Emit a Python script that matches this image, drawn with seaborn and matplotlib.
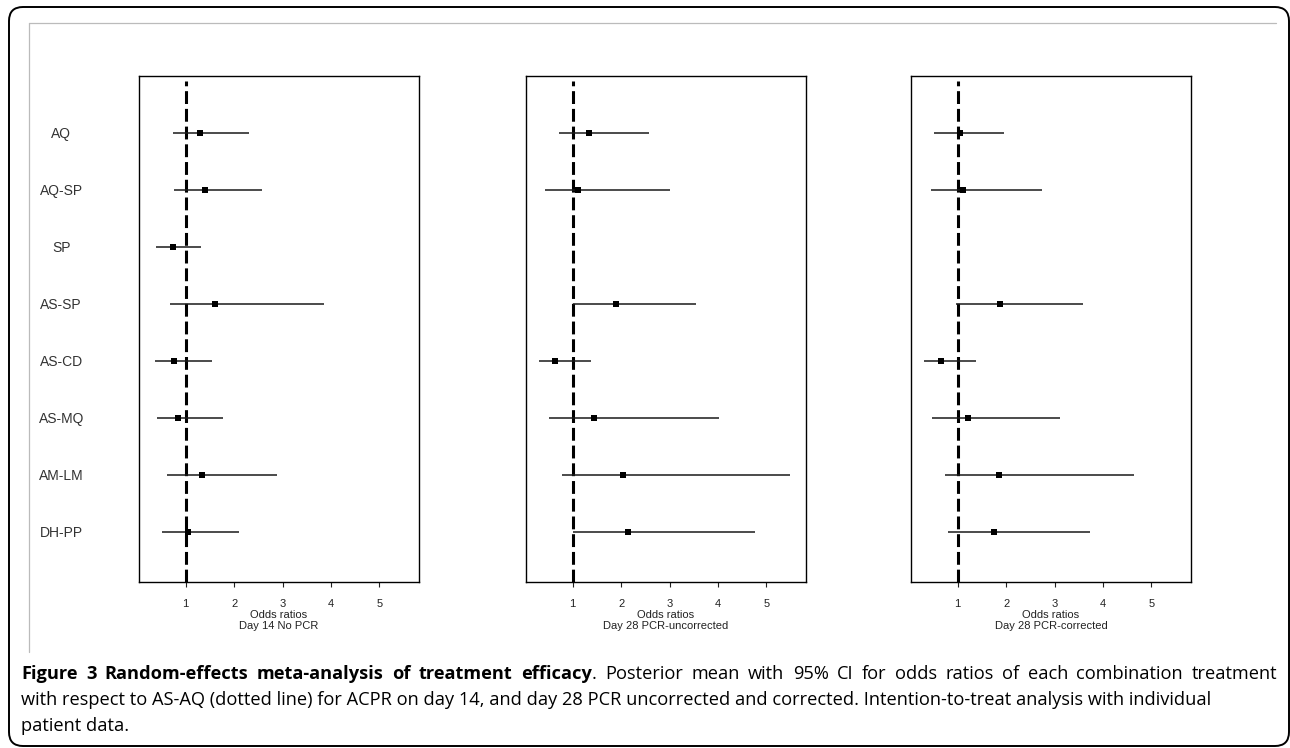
import numpy as np
import matplotlib
matplotlib.use('Agg')
import matplotlib.pyplot as plt
import seaborn as sns
from matplotlib.patches import FancyBboxPatch
from matplotlib.lines import Line2D

treatments = ['AQ', 'AQ-SP', 'SP', 'AS-SP', 'AS-CD', 'AS-MQ', 'AM-LM', 'DH-PP']
panel_names = ['Day 14 No PCR', 'Day 28 PCR-uncorrected', 'Day 28 PCR-corrected']

# posterior mean and 95% CI of odds ratios
d14_mean = [1.30, 1.40, 0.73, 1.60, 0.76, 0.85, 1.34, 1.04]
d14_low = [0.73, 0.76, 0.39, 0.67, 0.37, 0.41, 0.62, 0.52]
d14_high = [2.31, 2.57, 1.32, 3.86, 1.55, 1.78, 2.89, 2.11]

d28u_mean = [1.34, 1.10, np.nan, 1.90, 0.64, 1.45, 2.04, 2.14]
d28u_low = [0.71, 0.42, np.nan, 1.01, 0.30, 0.52, 0.77, 1.00]
d28u_high = [2.57, 3.00, np.nan, 3.55, 1.37, 4.03, 5.48, 4.76]

d28c_mean = [1.05, 1.11, np.nan, 1.87, 0.65, 1.22, 1.85, 1.74]
d28c_low = [0.52, 0.44, np.nan, 0.97, 0.31, 0.47, 0.74, 0.79]
d28c_high = [1.96, 2.75, np.nan, 3.59, 1.37, 3.12, 4.65, 3.74]

panels = [(d14_mean, d14_low, d14_high),
          (d28u_mean, d28u_low, d28u_high),
          (d28c_mean, d28c_low, d28c_high)]

caption_bold = 'Figure 3 Random-effects meta-analysis of treatment efficacy'
caption_rest = '. Posterior mean with 95% CI for odds ratios of each combination treatment'
caption_lines = ['with respect to AS-AQ (dotted line) for ACPR on day 14, and day 28 PCR '
                 'uncorrected and corrected. Intention-to-treat analysis with individual',
                 'patient data.']

sns.set_style('white')
plt.rcParams['font.family'] = ['Liberation Sans', 'DejaVu Sans']

W, H = 1290, 748
fig = plt.figure(figsize=(W / 100, H / 100), dpi=100)
px = fig.dpi_scale_trans

# frame around the whole figure
frame = FancyBboxPatch((0.09, 0.02), 12.80, 7.39, boxstyle='round,pad=0,rounding_size=0.14',
                       transform=px, fill=False, edgecolor='black', linewidth=1.4)
fig.patches.append(frame)
fig.lines.append(Line2D([0.29, 12.76], [(H - 23) / 100] * 2, transform=px,
                        color='#bbbbbb', linewidth=0.9))
fig.lines.append(Line2D([0.29, 0.29], [(H - 23) / 100, (H - 652) / 100], transform=px,
                        color='#bbbbbb', linewidth=0.9))

lefts = [139, 526, 911]
rows = np.arange(len(treatments))
for i, (mean, low, high) in enumerate(panels):
    ax = fig.add_axes([lefts[i] / W, 1 - 582 / H, 280 / W, 506 / H])
    ax.axvline(1, ymax=1 - 5 / 506, color='black', linewidth=2.2,
               linestyle=(0, (4.2, 1.6)), zorder=1)
    ax.hlines(rows, low, high, color='#1a1a1a', linewidth=1.1, zorder=2)
    sns.scatterplot(x=mean, y=rows, marker='s', color='black', s=22,
                    edgecolor='black', linewidth=0, ax=ax, zorder=3)
    ax.set_xlim(0.035, 5.82)
    ax.set_ylim(7.88, -1)
    ax.set_xticks([1, 2, 3, 4, 5])
    ax.tick_params(axis='x', bottom=True, length=3.6, width=0.8, pad=8.5,
                   labelsize=8, colors='#222222')
    if i == 0:
        ax.set_yticks(rows)
        ax.set_yticklabels(treatments, fontsize=10, color='#333333')
        ax.tick_params(axis='y', left=False, length=0, pad=56)
        for lab in ax.get_yticklabels():
            lab.set_ha('center')
    else:
        ax.set_yticks([])
    ax.set_xlabel('Odds ratios\n' + panel_names[i], fontsize=8, color='#222222',
                  linespacing=1.05, labelpad=1)
    for sp in ax.spines.values():
        sp.set_color('black')
        sp.set_linewidth(1.0)

# caption: size fitted on the second line, first line justified
cap_font = ['Open Sans', 'DejaVu Sans']
x0 = 21
r = fig.canvas.get_renderer()
probe = fig.text(0, 0, caption_lines[0], transform=px, fontsize=12, family=cap_font)
fs = 12 * 1185 / probe.get_window_extent(r).width
probe.remove()

tokens = []
for k, w in enumerate(caption_bold.split(' ')):
    tokens.append((w, 'bold', k > 0))
rest_words = caption_rest.split(' ')
tokens.append((rest_words[0], 'normal', False))
for w in rest_words[1:]:
    tokens.append((w, 'normal', True))

objs = []
for w, weight, _ in tokens:
    objs.append(fig.text(0, (H - 674) / 100, w, transform=px, fontsize=fs,
                         fontweight=weight, family=cap_font, va='center', color='black'))
widths = [o.get_window_extent(r).width for o in objs]
n_gaps = sum(1 for t in tokens if t[2])
gap = (1256 - sum(widths)) / n_gaps
x = x0
for (w, weight, sp_before), o, wd in zip(tokens, objs, widths):
    if sp_before:
        x += gap
    o.set_x(x / 100)
    x += wd

for k, line in enumerate(caption_lines):
    fig.text(x0 / 100, (H - 700 - 26 * k) / 100, line, transform=px, fontsize=fs,
             family=cap_font, va='center', color='black')

fig.savefig('out.png', dpi=100)
